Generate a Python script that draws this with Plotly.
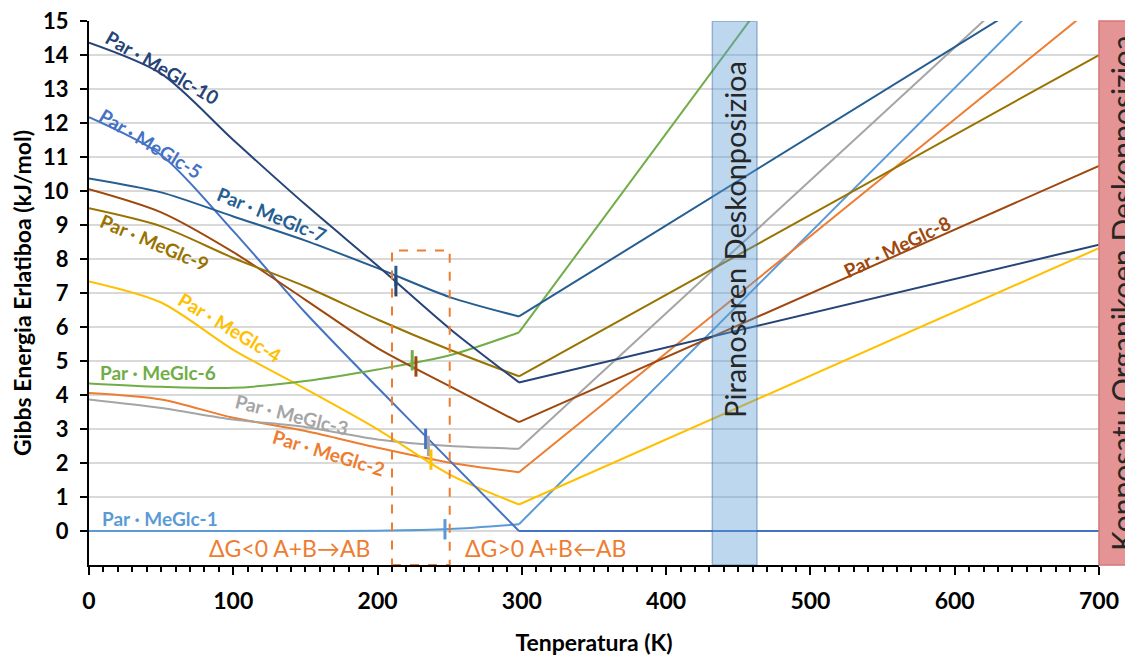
import plotly.graph_objects as go

# ---------------- data ----------------
T_low = [0, 50, 100, 150, 200, 250, 298]
T_high = [298, 700]

series_names = ["Par · MeGlc-1", "Par · MeGlc-2", "Par · MeGlc-3", "Par · MeGlc-4", "Par · MeGlc-5",
                "Par · MeGlc-6", "Par · MeGlc-7", "Par · MeGlc-8", "Par · MeGlc-9", "Par · MeGlc-10"]

g1 = [0.0, 0.0, 0.0, 0.0, 0.01, 0.06, 0.2]
g2 = [4.06, 3.87, 3.33, 2.94, 2.45, 2.01, 1.73]
g3 = [3.87, 3.62, 3.28, 3.06, 2.69, 2.50, 2.42]
g4 = [7.34, 6.72, 5.33, 4.18, 2.99, 1.66, 0.78]
g5 = [12.17, 11.06, 8.82, 6.42, 4.22, 2.07, 0.0]
g6 = [4.34, 4.24, 4.21, 4.41, 4.75, 5.17, 5.84]
g7 = [10.37, 9.96, 9.25, 8.54, 7.73, 6.88, 6.31]
g8 = [10.05, 9.37, 8.20, 6.80, 5.38, 4.26, 3.20]
g9 = [9.49, 8.96, 8.03, 7.19, 6.22, 5.33, 4.55]
g10 = [14.36, 13.45, 11.5, 9.60, 7.80, 5.95, 4.37]

# value at 700 K (straight line from 298 K)
g_700 = [17.28, 15.55, 18.13, 8.32, 0.0, 28.9, 16.86, 10.74, 14.0, 8.42]

low_values = [g1, g2, g3, g4, g5, g6, g7, g8, g9, g10]
colors = ["#5B9BD5", "#ED7D31", "#A5A5A5", "#FFC000", "#4472C4",
          "#70AD47", "#255E91", "#9E480E", "#997300", "#264478"]

# label positions (T, G) and angles
label_T = [49, 166, 141, 98, 43, 48, 127, 560, 46, 51]
label_G = [0.37, 2.31, 3.43, 5.98, 11.4, 4.66, 9.3, 8.38, 8.5, 13.63]
label_angle = [0, 17, 14, 31, 31, 0, 22, -26, 23, 30]

# transition markers (T, G, series index)
mark_T = [212.7, 212.7, 224.0, 226.6, 233.3, 235.2, 237.0, 246.7]
mark_G = [7.5, 7.2, 5.02, 4.84, 2.71, 2.5, 2.1, 0.05]
mark_series = [6, 9, 5, 7, 4, 2, 3, 0]
MARK_HALF = 0.3

pyranose_band = [432, 463]
dashed_box_T = [210, 250]
dashed_box_G = [-1, 8.25]

FONT = "Lato"

fig = go.Figure()

for i in range(10):
    fig.add_trace(go.Scatter(x=T_low, y=low_values[i], mode="lines",
                             line=dict(color=colors[i], width=2, shape="spline", smoothing=0.8),
                             name=series_names[i], showlegend=False, hoverinfo="skip"))
    fig.add_trace(go.Scatter(x=T_high, y=[low_values[i][-1], g_700[i]], mode="lines",
                             line=dict(color=colors[i], width=2),
                             name=series_names[i], showlegend=False, hoverinfo="skip"))

for t, g, s in zip(mark_T, mark_G, mark_series):
    fig.add_trace(go.Scatter(x=[t, t], y=[g - MARK_HALF, g + MARK_HALF], mode="lines",
                             line=dict(color=colors[s], width=3),
                             showlegend=False, hoverinfo="skip"))

# shapes
fig.add_shape(type="rect", xref="x", yref="y", x0=pyranose_band[0], x1=pyranose_band[1], y0=-1, y1=15,
              fillcolor="rgba(91,155,213,0.4)", line=dict(color="rgba(46,100,160,0.4)", width=1.5), layer="above")
fig.add_shape(type="rect", xref="paper", yref="paper", x0=1.0, x1=1.06, y0=0, y1=1,
              fillcolor="#E49494", line=dict(color="#D87575", width=1.5), layer="above")
fig.add_shape(type="rect", xref="x", yref="y", x0=dashed_box_T[0], x1=dashed_box_T[1],
              y0=dashed_box_G[0], y1=dashed_box_G[1],
              line=dict(color="#ED7D31", width=2, dash="dash"), fillcolor="rgba(0,0,0,0)", layer="above")

# series labels
for i in range(10):
    fig.add_annotation(x=label_T[i], y=label_G[i], xref="x", yref="y", text=series_names[i],
                       showarrow=False, textangle=label_angle[i],
                       font=dict(family=FONT, size=19, color=colors[i], weight="bold"),
                       xanchor="center", yanchor="middle")

fig.add_annotation(x=447.7, y=8.59, xref="x", yref="y", text="Piranosaren Deskonposizioa",
                   showarrow=False, textangle=-90, font=dict(family=FONT, size=29, color="#262626"))
fig.add_annotation(x=1.0228, y=0.022, xref="paper", yref="paper", text="Konposatu Organikoen Deskonposizioa",
                   showarrow=False, textangle=-90, xanchor="center", yanchor="bottom",
                   font=dict(family=FONT, size=30, color="#262626"))

fig.add_annotation(x=196, y=-0.51, xref="x", yref="y", text="ΔG<0 A+B→AB", showarrow=False,
                   xanchor="right", yanchor="middle", font=dict(family=FONT, size=23, color="#ED7D31"))
fig.add_annotation(x=259, y=-0.51, xref="x", yref="y", text="ΔG>0 A+B←AB", showarrow=False,
                   xanchor="left", yanchor="middle", font=dict(family=FONT, size=23, color="#ED7D31"))

fig.update_layout(
    width=1133, height=655,
    margin=dict(l=81, r=42, t=13, b=98, autoexpand=False),
    plot_bgcolor="white", paper_bgcolor="white",
    showlegend=False,
)

fig.update_xaxes(
    range=[0, 700], tickmode="array", tickvals=[0, 100, 200, 300, 400, 500, 600, 700],
    showgrid=False, zeroline=False, automargin=False,
    showline=True, linecolor="black", linewidth=2,
    ticks="outside", ticklen=8, tickwidth=2, tickcolor="black",
    minor=dict(dtick=10, tick0=0, ticks="outside", ticklen=5, tickwidth=2, tickcolor="black", showgrid=False),
    tickfont=dict(family=FONT, size=23, color="black", weight="bold"),
    ticklabelstandoff=6, ticklabeloverflow="allow",
    title=dict(text="Tenperatura (K)", font=dict(family=FONT, size=23, color="black", weight="bold"), standoff=22),
)
fig.update_yaxes(
    range=[-1, 15], tickmode="array", tickvals=list(range(0, 16)),
    showgrid=True, gridcolor="#D9D9D9", gridwidth=1.5, zeroline=False, automargin=False,
    showline=True, linecolor="black", linewidth=2,
    ticks="outside", ticklen=7, tickwidth=2, tickcolor="black",
    tickfont=dict(family=FONT, size=22, color="black", weight="bold"),
    ticklabelstandoff=7, ticklabeloverflow="allow",
    title=dict(text="Gibbs Energia Erlatiboa (kJ/mol)", font=dict(family=FONT, size=23, color="black", weight="bold"), standoff=8),
)

fig.write_html("out.html")
